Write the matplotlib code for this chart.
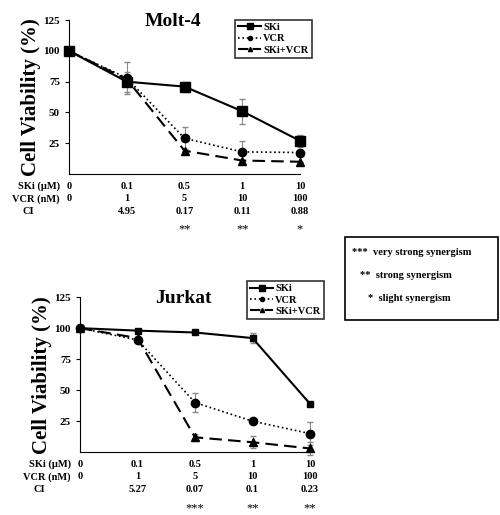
import matplotlib
matplotlib.use('Agg')
import matplotlib.pyplot as plt
from matplotlib.lines import Line2D

plt.rcParams['font.family'] = 'Liberation Serif'
plt.rcParams['font.weight'] = 'bold'
plt.rcParams['axes.titleweight'] = 'bold'
plt.rcParams['axes.labelweight'] = 'bold'

# ---- data ----
doses_x = [0, 1, 2, 3, 4]
ski_doses = ['0', '0.1', '0.5', '1', '10']
vcr_doses = ['0', '1', '5', '10', '100']

molt_ski = [100, 75, 71, 51, 27]
molt_ski_err = [0, 8, 4, 10, 5]
molt_vcr = [100, 78, 29, 18, 17.5]
molt_vcr_err = [0, 13, 9, 9, 0]
molt_combo = [100, 77, 19, 11, 10]
molt_combo_err = [0, 0, 0, 0, 0]
molt_ci = ['', '4.95', '0.17', '0.11', '0.88']
molt_stars = ['', '', '**', '**', '*']

jurkat_ski = [100, 98, 96.5, 92, 39]
jurkat_ski_err = [0, 1, 1, 4, 1]
jurkat_vcr = [100, 90.5, 40, 25, 15]
jurkat_vcr_err = [0, 2, 8, 1, 9]
jurkat_combo = [100, 92, 12, 8, 3]
jurkat_combo_err = [0, 1, 3, 5, 5]
jurkat_ci = ['', '5.27', '0.07', '0.1', '0.23']
jurkat_stars = ['', '', '***', '**', '**']

fig = plt.figure(figsize=(5, 5.15), dpi=100)


def panel(rect, title, ski, ski_e, vcr, vcr_e, combo, combo_e, ci, stars, leg_pos, ms_sq):
    ax = fig.add_axes(rect)
    ek = dict(ecolor='#888888', elinewidth=0.8, capsize=2.5, clip_on=False)
    ax.errorbar(doses_x, ski, yerr=ski_e, color='black', lw=1.5, ls='-',
                marker='s', ms=ms_sq, label='SKi', **ek)
    ax.errorbar(doses_x, vcr, yerr=vcr_e, color='black', lw=1.2, ls=':',
                marker='o', ms=6, label='VCR', **ek)
    ax.errorbar(doses_x, combo, yerr=combo_e, color='black', lw=1.5, ls=(0, (6, 3)),
                marker='^', ms=6, label='SKi+VCR', **ek)
    ax.set_xlim(0, 4)
    ax.set_ylim(0, 125)
    ax.set_yticks([25, 50, 75, 100, 125])
    ax.set_xticks([])
    ax.tick_params(axis='y', labelsize=8, length=3)
    for s in ('top', 'right'):
        ax.spines[s].set_visible(False)
    ax.set_ylabel('Cell Viability (%)', fontsize=15, labelpad=2)
    ax.set_title(title, fontsize=14, pad=-4, y=1.0, x=0.45)
    for c in ax.get_children():
        if hasattr(c, 'set_clip_on'):
            c.set_clip_on(False)
    leg = fig.legend(handles=[
        Line2D([], [], color='black', lw=1.5, marker='s', ms=4),
        Line2D([], [], color='black', lw=1.2, ls=':', marker='o', ms=3),
        Line2D([], [], color='black', lw=1.5, ls=(0, (5, 2)), marker='^', ms=3)],
        labels=['SKi', 'VCR', 'SKi+VCR'], loc='upper left', bbox_to_anchor=leg_pos,
        fontsize=7.5, frameon=True, fancybox=False, edgecolor='black',
        handlelength=2.2, handletextpad=0.2, labelspacing=0.2, borderpad=0.3)
    leg.get_frame().set_linewidth(1.2)
    rows = [('SKi (µM)', ski_doses, -0.04), ('VCR (nM)', vcr_doses, -0.04), ('CI', ci, -0.15)]
    for r, (lab, vals, lx) in enumerate(rows):
        y = -0.08 - r * 0.08
        ax.text(lx, y, lab, transform=ax.transAxes, ha='right', va='center', fontsize=7.5)
        for xv, v in zip(doses_x, vals):
            ax.text(xv, y, v, transform=ax.get_xaxis_transform(), ha='center',
                    va='center', fontsize=7.5)
    for xv, s in zip(doses_x, stars):
        ax.text(xv, -0.36, s, transform=ax.get_xaxis_transform(), ha='center',
                va='center', fontsize=9, weight='normal')
    return ax


panel([0.138, 0.662, 0.462, 0.299], 'Molt-4', molt_ski, molt_ski_err, molt_vcr,
      molt_vcr_err, molt_combo, molt_combo_err, molt_ci, molt_stars, (0.46, 0.972), 7)
panel([0.16, 0.122, 0.46, 0.301], 'Jurkat', jurkat_ski, jurkat_ski_err, jurkat_vcr,
      jurkat_vcr_err, jurkat_combo, jurkat_combo_err, jurkat_ci, jurkat_stars, (0.484, 0.465), 5)

# synergism key
fig.patches.append(plt.Rectangle((0.69, 0.378), 0.305, 0.162, transform=fig.transFigure,
                                 fill=False, edgecolor='black', lw=1.2))
fig.text(0.705, 0.51, '***  very strong synergism', fontsize=7.5, va='center')
fig.text(0.72, 0.465, '**  strong synergism', fontsize=7.5, va='center')
fig.text(0.735, 0.42, '*  slight synergism', fontsize=7.5, va='center')

fig.savefig('out.png', dpi=100)
